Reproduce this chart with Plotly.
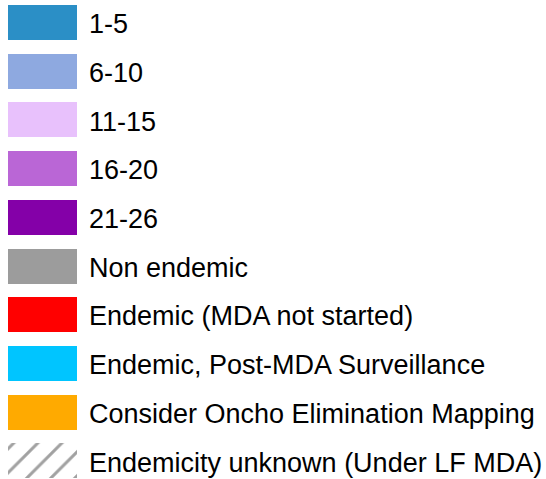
import plotly.graph_objects as go

labels = ["1-5", "6-10", "11-15", "16-20", "21-26", "Non endemic",
          "Endemic (MDA not started)", "Endemic, Post-MDA Surveillance",
          "Consider Oncho Elimination Mapping", "Endemicity unknown (Under LF MDA)"]
colors = ["#2B8FC6", "#8EA9E0", "#E8C1FC", "#BA66D6", "#8400A8", "#9C9C9C",
          "#FF0000", "#00C5FF", "#FFAA00", "#FFFFFF"]
patterns = ["", "", "", "", "", "", "", "", "", "/"]
rows = list(range(len(labels)))

ROW0, STEP = 22.5, 48.7
ycent = [ROW0 + STEP * r for r in rows]
ytext = [y + 4 for y in ycent]

fig = go.Figure()
fig.add_trace(go.Bar(
    x=[69] * len(rows), base=[8] * len(rows), y=ycent, orientation="h",
    width=35,
    marker=dict(color=colors, line=dict(width=0),
                pattern=dict(shape=patterns, fgcolor="#000000", bgcolor="#FFFFFF",
                             size=17, solidity=0.18)),
    hoverinfo="skip", showlegend=False,
))
fig.add_trace(go.Scatter(
    x=[89] * len(rows), y=ytext, mode="text", text=labels,
    textposition="middle right",
    textfont=dict(family="Liberation Sans, Arial, sans-serif", size=27, color="#000000"),
    hoverinfo="skip", showlegend=False, cliponaxis=False,
))
fig.update_layout(
    width=546, height=479, margin=dict(l=0, r=0, t=0, b=0),
    paper_bgcolor="white", plot_bgcolor="white",
    xaxis=dict(range=[0, 546], visible=False, fixedrange=True),
    yaxis=dict(range=[479, 0], visible=False, fixedrange=True),
    bargap=0,
)
fig.write_html("out.html", post_script="document.body.style.margin='0';",
               config={"displayModeBar": False})
